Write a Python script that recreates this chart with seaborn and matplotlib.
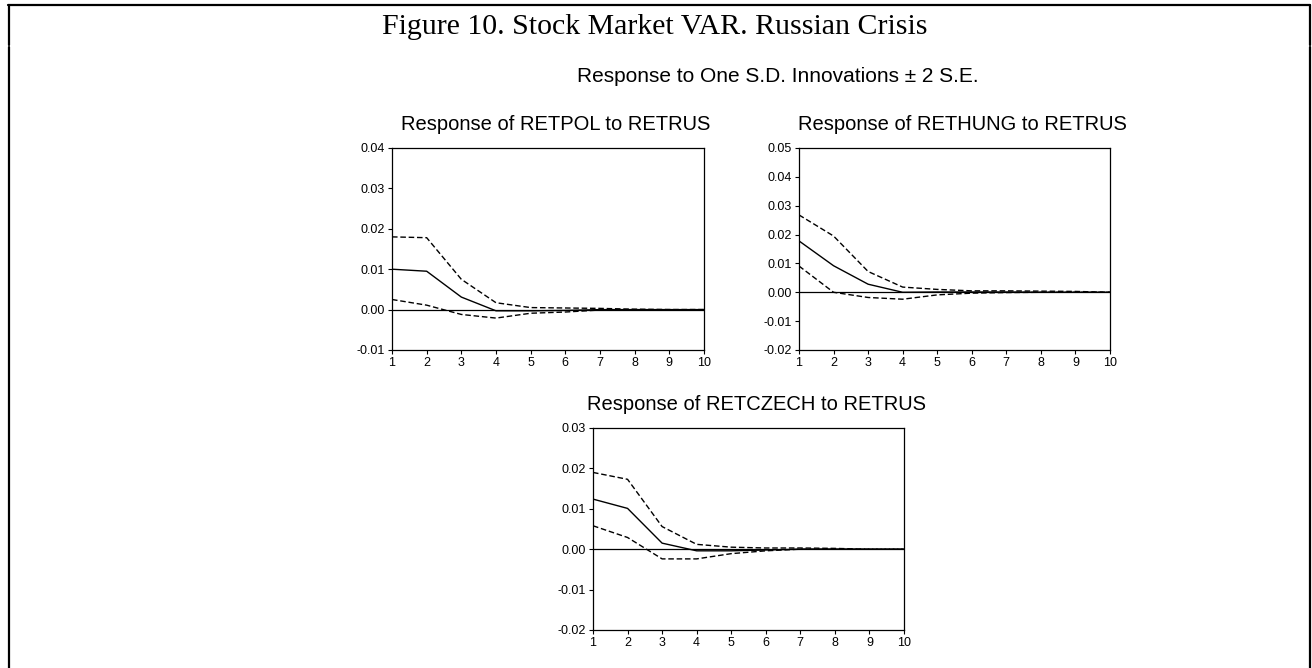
import numpy as np
import pandas as pd
import seaborn as sns
import matplotlib
matplotlib.use("Agg")
import matplotlib.pyplot as plt
from matplotlib.lines import Line2D

# impulse response horizon
periods = list(range(1, 11))

# Response of RETPOL to RETRUS
pol_resp = [0.0100, 0.0095, 0.0031, -0.0003, -0.0003, -0.0002, 0.0000, 0.0000, 0.0000, 0.0000]
pol_upper = [0.0180, 0.0178, 0.0075, 0.0017, 0.0005, 0.0004, 0.0003, 0.0001, 0.0000, 0.0000]
pol_lower = [0.0025, 0.0011, -0.0012, -0.0021, -0.0009, -0.0006, -0.0001, 0.0000, 0.0000, 0.0000]

# Response of RETHUNG to RETRUS
hung_resp = [0.0178, 0.0092, 0.0028, 0.0000, 0.0001, 0.0001, 0.0001, 0.0000, 0.0000, 0.0000]
hung_upper = [0.0268, 0.0195, 0.0072, 0.0018, 0.0010, 0.0005, 0.0005, 0.0004, 0.0003, 0.0000]
hung_lower = [0.0091, 0.0000, -0.0018, -0.0024, -0.0009, -0.0003, -0.0001, 0.0000, 0.0000, 0.0000]

# Response of RETCZECH to RETRUS
czech_resp = [0.0124, 0.0101, 0.0015, -0.0004, -0.0004, -0.0002, 0.0000, 0.0000, 0.0000, 0.0000]
czech_upper = [0.0190, 0.0173, 0.0056, 0.0012, 0.0005, 0.0003, 0.0003, 0.0002, 0.0000, 0.0000]
czech_lower = [0.0058, 0.0029, -0.0024, -0.0024, -0.0011, -0.0004, 0.0000, 0.0000, 0.0000, 0.0000]

panel_titles = ["Response of RETPOL to RETRUS",
                "Response of RETHUNG to RETRUS",
                "Response of RETCZECH to RETRUS"]
y_ranges = [(-0.01, 0.04), (-0.02, 0.05), (-0.02, 0.03)]

sns.set_style("ticks")
plt.rcParams['font.family'] = ['Liberation Sans', 'DejaVu Sans']
plt.rcParams.update({'text.color': 'black', 'xtick.color': 'black',
                     'ytick.color': 'black', 'axes.labelcolor': 'black'})

W, H = 1312, 668
fig = plt.figure(figsize=(W / 100, H / 100), dpi=100)


def px_axes(left, top, right, bottom):
    return fig.add_axes([left / W, 1 - bottom / H, (right - left) / W, (bottom - top) / H])


axes = [px_axes(392, 148, 704, 350),
        px_axes(799, 148, 1110, 350),
        px_axes(593, 428, 904, 630)]

series = [(pol_resp, pol_upper, pol_lower),
          (hung_resp, hung_upper, hung_lower),
          (czech_resp, czech_upper, czech_lower)]

for ax, (resp, up, lo), title, (ymin, ymax) in zip(axes, series, panel_titles, y_ranges):
    df = pd.DataFrame({'period': periods, 'resp': resp, 'upper': up, 'lower': lo})
    ax.axhline(0, color='black', lw=0.9)
    sns.lineplot(data=df, x='period', y='resp', ax=ax, color='black', lw=1.0)
    sns.lineplot(data=df, x='period', y='upper', ax=ax, color='black', lw=1.0)
    sns.lineplot(data=df, x='period', y='lower', ax=ax, color='black', lw=1.0)
    for ln in ax.lines[2:]:
        ln.set_dashes((4, 2))
    ax.set_xlim(1, 10)
    ax.set_ylim(ymin, ymax)
    ax.set_xticks(periods)
    ax.set_yticks(np.round(np.arange(ymin, ymax + 0.001, 0.01), 2))
    ax.yaxis.set_major_formatter(matplotlib.ticker.FormatStrFormatter('%.2f'))
    ax.set_xlabel('')
    ax.set_ylabel('')
    ax.tick_params(labelsize=9, length=3, width=0.8, color='black', pad=2)
    for sp in ax.spines.values():
        sp.set_visible(True)
        sp.set_color('black')
        sp.set_linewidth(0.9)
    t = ax.set_title(title, fontsize=14.5, pad=13, color='black')
    t.set_x(0.5 + 8 / 311)

fig.text(655 / W, 1 - 27 / H, "Figure 10. Stock Market VAR. Russian Crisis",
         ha='center', va='center', fontsize=21.5, family=['Liberation Serif', 'DejaVu Serif'])
fig.text(778 / W, 1 - 77 / H, "Response to One S.D. Innovations \u00b1 2 S.E.",
         ha='center', va='center', fontsize=15)

# table cell frame
frame = dict(color='black', lw=1.6, transform=fig.transFigure)
fig.add_artist(Line2D([8 / W, 1310 / W], [1 - 5 / H, 1 - 5 / H], **frame))
for x in (9, 1310):
    fig.add_artist(Line2D([x / W, x / W], [1 - 5 / H, 1 - 45 / H], **frame))
    fig.add_artist(Line2D([x / W, x / W], [1 - 47 / H, 0], **frame))

fig.savefig("out.png", dpi=100)
